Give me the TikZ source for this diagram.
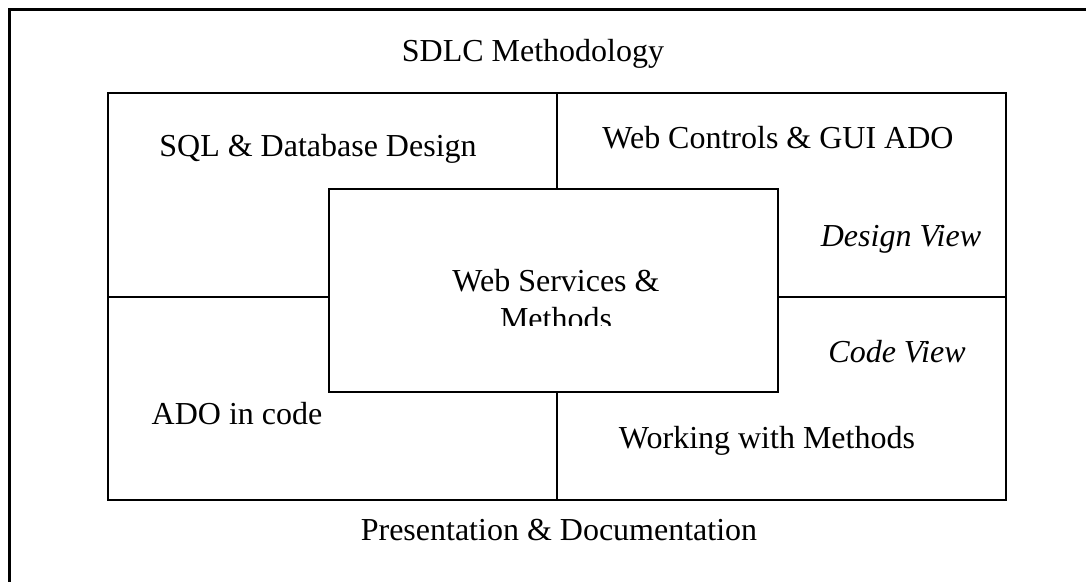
\documentclass[tikz,border=0pt]{standalone}
\usepackage{fontspec}
\setmainfont{Liberation Serif}
\begin{document}
\begin{tikzpicture}[x=0.75pt, y=-0.75pt, font=\fontsize{24}{28}\selectfont]
\useasboundingbox (0,0) rectangle (1086,582);
\tikzset{lbl/.style={anchor=base, inner sep=0pt}}
\draw[line width=2.25pt] (9,582) -- (9,9) -- (1086,9);
\draw[line width=1.5pt] (108,93) rectangle (1006,500);
\draw[line width=1.5pt] (557,93) -- (557,189);
\draw[line width=1.5pt] (557,392) -- (557,500);
\draw[line width=1.5pt] (108,297) -- (329,297);
\draw[line width=1.5pt] (778,297) -- (1006,297);
\draw[line width=1.5pt] (329,189) rectangle (778,392);
\node[lbl] (title) at (533,61) {SDLC Methodology};
\node[lbl] (sql) at (318,156) {SQL \& Database Design};
\node[lbl] (web) at (778,148) {Web Controls \& GUI ADO};
\node[lbl] (design) at (901,246) {\itshape Design View};
\node[lbl] (code) at (897,362) {\itshape Code View};
\begin{scope}
\clip (329,189) rectangle (778,325);
\node[lbl] (ws) at (556,291) {Web Services \&};
\node[lbl] (meth) at (556,329) {Methods};
\end{scope}
\node[lbl] (ado) at (237,424) {ADO in code};
\node[lbl] (work) at (767,448) {Working with Methods};
\node[lbl] (pres) at (559,540) {Presentation \& Documentation};
\end{tikzpicture}
\end{document}
